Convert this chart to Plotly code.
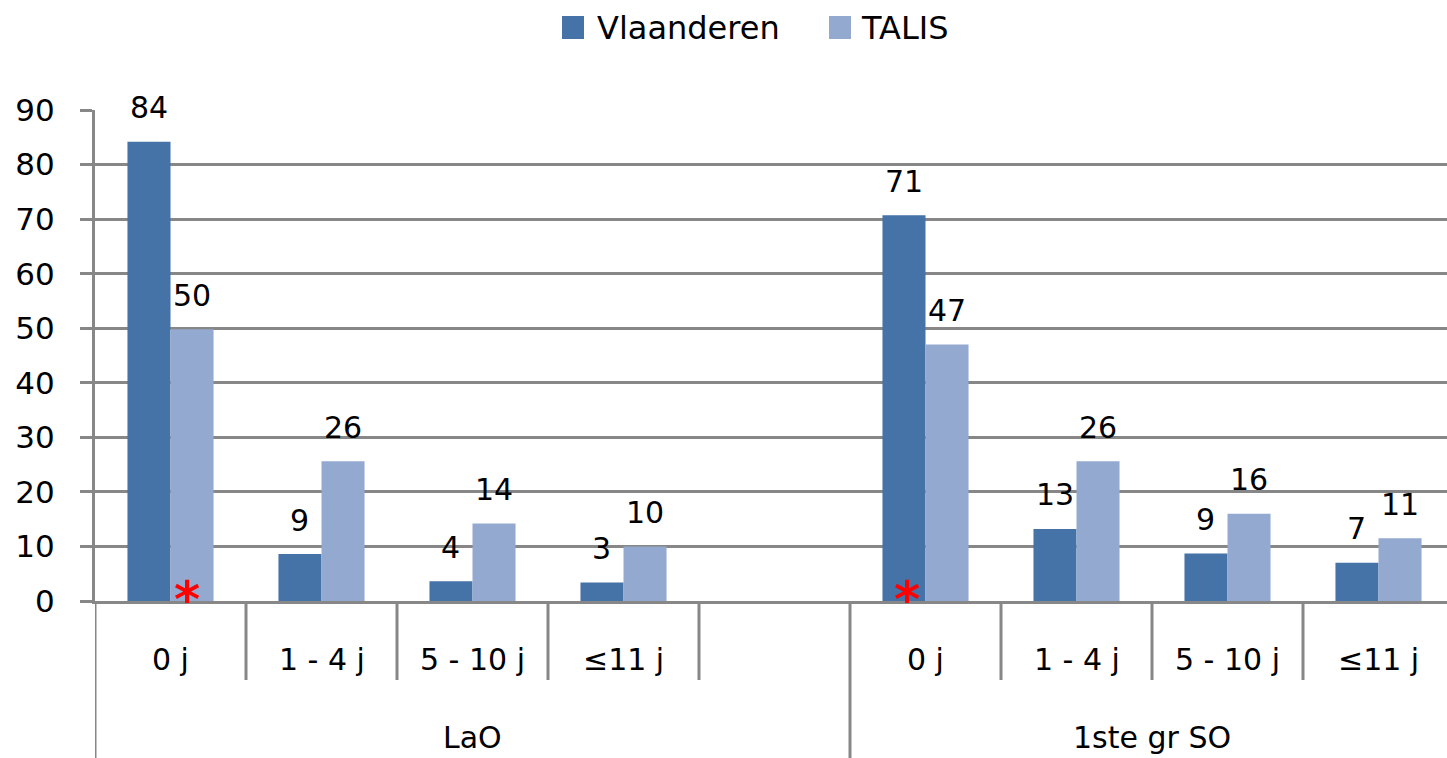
import plotly.graph_objects as go

# ---------------- data ----------------
groups = ["LaO", "1ste gr SO"]
subcats = ["0 j", "1 - 4 j", "5 - 10 j", "≤11 j"]
series_names = ["Vlaanderen", "TALIS"]

vlaanderen_lao = [84.2, 8.6, 3.6, 3.4]
talis_lao = [49.8, 25.6, 14.2, 10.0]
vlaanderen_so = [70.7, 13.2, 8.7, 7.0]
talis_so = [47.0, 25.6, 16.0, 11.5]

labels_vlaanderen_lao = ["84", "9", "4", "3"]
labels_talis_lao = ["50", "26", "14", "10"]
labels_vlaanderen_so = ["71", "13", "9", "7"]
labels_talis_so = ["47", "26", "16", "11"]

y_ticks = [0, 10, 20, 30, 40, 50, 60, 70, 80, 90]

# significance markers: (group index, subcategory index, series index)
significant = [(0, 0, 1), (1, 0, 0)]

# ---------------- style ----------------
COL_DARK = "#4572A7"
COL_LIGHT = "#94A9D0"
GRID = "#878787"
FONT = "DejaVu Sans"

W, H = 1447, 758
ML, MR, MT, MB = 95, 0, 110, 157
PW, PH = W - ML - MR, H - MT - MB
SLOT_PX = 151.0
BARGAP = 0.43

# slot layout: group 0 occupies slots 0-3, one empty slot, group 1 slots 5-8
n_sub = len(subcats)
group_start = [0, n_sub + 1]
n_slots = 2 * n_sub + 1

def xs(g):
    return [group_start[g] + i for i in range(n_sub)]

x_all = xs(0) + xs(1)
vl_all = vlaanderen_lao + vlaanderen_so
ta_all = talis_lao + talis_so
vl_lab = labels_vlaanderen_lao + labels_vlaanderen_so
ta_lab = labels_talis_lao + labels_talis_so

def px_x(px):
    return (px - ML) / PW

def px_y(py):
    return (H - MB - py) / PH

fig = go.Figure()
fig.add_trace(go.Bar(x=x_all, y=vl_all, name=series_names[0],
                     marker=dict(color=COL_DARK, line=dict(width=0)),
                     showlegend=False))
fig.add_trace(go.Bar(x=x_all, y=ta_all, name=series_names[1],
                     marker=dict(color=COL_LIGHT, line=dict(width=0)),
                     showlegend=False))

half = (1 - BARGAP) / 4.0  # offset of each bar centre from slot centre
annotations = []
for x, v, t in zip(x_all, vl_all, vl_lab):
    annotations.append(dict(x=x - half, y=v, xref="x", yref="y", text=t,
                            showarrow=False, yshift=34, yanchor="middle",
                            font=dict(family=FONT, size=30, color="black")))
for x, v, t in zip(x_all, ta_all, ta_lab):
    annotations.append(dict(x=x + half, y=v, xref="x", yref="y", text=t,
                            showarrow=False, yshift=34, yanchor="middle",
                            font=dict(family=FONT, size=30, color="black")))

# significance asterisks
for g, i, s in significant:
    x = group_start[g] + i + (half * 0.78 if s == 1 else -half * 0.84)
    annotations.append(dict(x=x, y=0, xref="x", yref="y", text="<b>*</b>",
                            showarrow=False, yanchor="middle", yshift=1,
                            font=dict(family=FONT, size=50, color="#FF0000")))

# category labels (first level)
for g in range(2):
    for i, c in enumerate(subcats):
        annotations.append(dict(x=group_start[g] + i, y=px_y(659), xref="x", yref="paper",
                                text=c, showarrow=False, yanchor="middle",
                                font=dict(family=FONT, size=30, color="black")))
# group labels (second level)
group_spans = [(group_start[0] - 0.5, group_start[1] - 0.5),
               (group_start[1] - 0.5, n_slots - 0.5)]
for g, (a, b) in enumerate(group_spans):
    annotations.append(dict(x=(a + b) / 2, y=px_y(738), xref="x", yref="paper",
                            text=groups[g], showarrow=False, yanchor="middle",
                            font=dict(family=FONT, size=30, color="black")))

# manual legend
legend_items = [(series_names[0], COL_DARK, 562, 595), (series_names[1], COL_LIGHT, 829, 859)]
shapes = []
for name, col, sq_x, tx in legend_items:
    shapes.append(dict(type="rect", xref="paper", yref="paper",
                       x0=px_x(sq_x), x1=px_x(sq_x + 22), y0=px_y(39), y1=px_y(16),
                       fillcolor=col, line=dict(width=0)))
    annotations.append(dict(x=px_x(tx), y=px_y(28), xref="paper", yref="paper",
                            text=name, showarrow=False, xanchor="left", yanchor="middle",
                            font=dict(family=FONT, size=32, color="black")))

# category axis dividers
for k in range(n_slots):
    xb = k - 0.5
    long_line = k in group_start
    shapes.append(dict(type="line", xref="x", yref="paper", x0=xb, x1=xb,
                       y0=0, y1=px_y(758 if long_line else 680),
                       line=dict(color=GRID, width=3)))

fig.update_layout(
    width=W, height=H,
    margin=dict(l=ML, r=MR, t=MT, b=MB, pad=0),
    paper_bgcolor="white", plot_bgcolor="white",
    barmode="group", bargap=BARGAP, bargroupgap=0,
    annotations=annotations, shapes=shapes,
    showlegend=False,
    font=dict(family=FONT, size=30, color="black"),
)
fig.update_xaxes(range=[-0.5, -0.5 + PW / SLOT_PX], showticklabels=False,
                 showgrid=False, zeroline=False, showline=True,
                 linecolor=GRID, linewidth=3, ticks="")
fig.update_yaxes(range=[0, 90], tickvals=y_ticks, showgrid=True, gridcolor=GRID,
                 gridwidth=3, zeroline=False, showline=True, linecolor=GRID,
                 linewidth=3, ticks="outside", ticklen=12, tickwidth=3,
                 tickcolor=GRID, ticklabelstandoff=19,
                 tickfont=dict(family=FONT, size=31, color="black"))

fig.write_html("out.html",
               config={"displayModeBar": False},
               post_script="document.body.style.margin='0';document.body.style.overflow='hidden';")
